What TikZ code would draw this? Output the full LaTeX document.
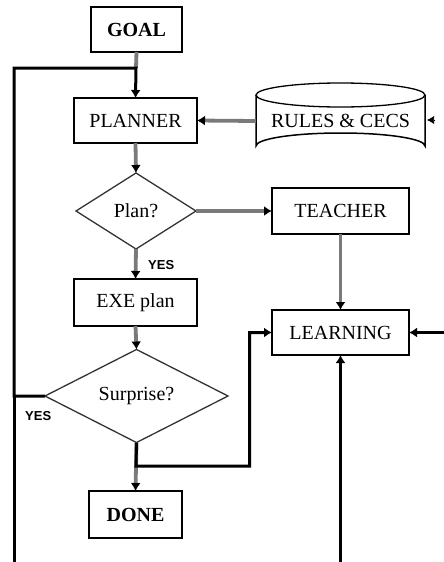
\documentclass[tikz,border=0pt]{standalone}
\usepackage{fontspec}
\setmainfont{Liberation Serif}
\newfontfamily\yesfont{Liberation Sans}
\usetikzlibrary{arrows.meta,shapes.geometric}
\begin{document}
\begin{tikzpicture}[x=1pt,y=-1pt,
  box/.style={draw=black,line width=1.5pt,rectangle,inner sep=0pt,outer sep=0pt,font=\fontsize{20}{22}\selectfont},
  dia/.style={draw=black!80,line width=1.3pt,diamond,inner sep=0pt,outer sep=0pt,font=\fontsize{20}{22}\selectfont},
  gline/.style={draw=black!52,line width=3.8pt},
  bline/.style={draw=black,line width=3pt},
  tip/.style={-{Latex[color=black,length=8pt,width=10pt]}},
  yes/.style={font=\yesfont\bfseries\fontsize{13}{14}\selectfont,inner sep=0pt}]
\useasboundingbox (0,0) rectangle (444,562);
\node[box,minimum width=91pt,minimum height=45pt] (goal) at (136.5,29.5) {\textbf{GOAL}};
\node[box,minimum width=123pt,minimum height=45pt] (planner) at (135.5,120.5) {PLANNER};
\node[dia,minimum width=120pt,minimum height=76pt] (plan) at (136,211) {Plan?};
\node[box,minimum width=137pt,minimum height=46pt] (teacher) at (340.5,211) {TEACHER};
\node[box,minimum width=137pt,minimum height=45pt] (learning) at (340.5,332.5) {LEARNING};
\node[box,minimum width=123pt,minimum height=47pt] (exe) at (135.5,302.5) {EXE plan};
\node[dia,minimum width=183pt,minimum height=82pt] (surprise) at (136.5,396) {Surprise?};
\node[box,minimum width=93pt,minimum height=47pt] (done) at (135.5,514.5) {\textbf{DONE}};
% cylinder
\draw[line width=1.5pt] (256,95) -- (256,146) arc[start angle=180,end angle=360,x radius=84.5,y radius=13] -- (425,95);
\draw[line width=1.3pt] (340.5,95) ellipse[x radius=84.5,y radius=12];
\node[inner sep=0pt,outer sep=0pt,minimum width=169pt,minimum height=54pt,font=\fontsize{20}{22}\selectfont] (rules) at (340.5,121) {RULES \& CECS};
\node[yes,anchor=west] (yes1) at (148,265) {YES};
\node[yes,anchor=west] (yes2) at (25,416) {YES};
\coordinate (j1) at (136,68);
\coordinate (lefttop) at (14,68);
\coordinate (leftbot) at (14,562);
\coordinate (leftmid) at (14,396);
\coordinate (j2) at (136,466);
\coordinate (bend) at (249.7,466);
\coordinate (learnbot) at (340.5,562);
\coordinate (learnright) at (444,332.5);
\coordinate (rtipA) at (435,120);
\coordinate (rtipB) at (427,120);
% connectors
\draw[gline] (goal.south) -- (j1);
\draw[bline,tip] (surprise.west) -- (leftmid) -- (lefttop) -- (j1) -- (planner.north);
\draw[bline] (leftbot) -- (leftmid);
\draw[gline,tip] (rules.west) -- (planner.east);
\draw[gline,tip] (planner.south) -- (plan.north);
\draw[gline,tip] (plan.east) -- (teacher.west);
\draw[gline,tip] (plan.south) -- (exe.north);
\draw[gline,tip] (teacher.south) -- (learning.north);
\draw[gline,tip] (exe.south) -- (surprise.north);
\draw[gline,tip] (surprise.south) -- (done.north);
\draw[bline,tip] (surprise.south) -- (j2) -- (bend) |- (learning.west);
\draw[bline,tip] (learnbot) -- (learning.south);
\draw[bline,tip] (learnright) -- (learning.east);
\draw[line width=0.6pt,-{Latex[length=7pt,width=8pt]}] (rtipA) -- (rtipB);
\end{tikzpicture}
\end{document}
